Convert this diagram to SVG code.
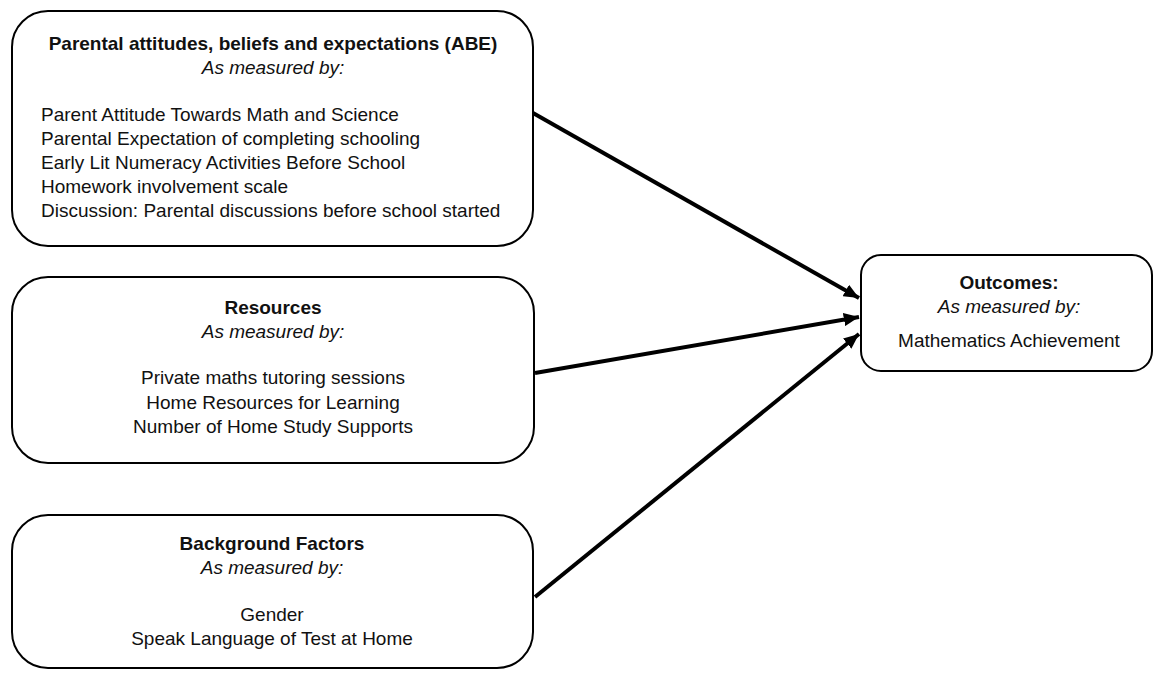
<svg xmlns="http://www.w3.org/2000/svg" width="1155" height="673" viewBox="0 0 1155 673">
<style>
.box{fill:#fff;stroke:#000;stroke-width:2}
text{font-family:"Liberation Sans",Arial,sans-serif;font-size:19px;fill:#111}
.b{font-weight:bold}
.i{font-style:italic}
.c{text-anchor:middle}
.conn{stroke:#000;stroke-width:4;fill:none;marker-end:url(#ah)}
</style>
<defs>
<marker id="ah" markerWidth="3.8" markerHeight="3.3" refX="3.8" refY="1.65" orient="auto" markerUnits="strokeWidth">
<path d="M0,0 L3.8,1.65 L0,3.3 Z" fill="#000"/>
</marker>
</defs>
<rect width="1155" height="673" fill="#fff"/>
<g id="connectors">
<line class="conn" x1="533" y1="113" x2="859" y2="298"/>
<line class="conn" x1="535" y1="373" x2="859" y2="317"/>
<line class="conn" x1="535" y1="597" x2="859" y2="334"/>
</g>
<g id="abe">
<rect class="box" x="12" y="11" width="521" height="235" rx="36"/>
<text class="b c" x="273" y="50">Parental attitudes, beliefs and expectations (ABE)</text>
<text class="i c" x="273" y="74">As measured by:</text>
<text x="41" y="121">Parent Attitude Towards Math and Science</text>
<text x="41" y="145">Parental Expectation of completing schooling</text>
<text x="41" y="169">Early Lit Numeracy Activities Before School</text>
<text x="41" y="193">Homework involvement scale</text>
<text x="41" y="217">Discussion: Parental discussions before school started</text>
</g>
<g id="resources">
<rect class="box" x="12" y="277" width="522" height="186" rx="36"/>
<text class="b c" x="273" y="314">Resources</text>
<text class="i c" x="273" y="338">As measured by:</text>
<text class="c" x="273" y="384">Private maths tutoring sessions</text>
<text class="c" x="273" y="409">Home Resources for Learning</text>
<text class="c" x="273" y="433">Number of Home Study Supports</text>
</g>
<g id="background">
<rect class="box" x="12" y="515" width="521" height="153" rx="36"/>
<text class="b c" x="272" y="550">Background Factors</text>
<text class="i c" x="272" y="574">As measured by:</text>
<text class="c" x="272" y="621">Gender</text>
<text class="c" x="272" y="645">Speak Language of Test at Home</text>
</g>
<g id="outcomes">
<rect class="box" x="861" y="255" width="291" height="116" rx="20"/>
<text class="b c" x="1009" y="289">Outcomes:</text>
<text class="i c" x="1009" y="313">As measured by:</text>
<text class="c" x="1009" y="347">Mathematics Achievement</text>
</g>
</svg>
